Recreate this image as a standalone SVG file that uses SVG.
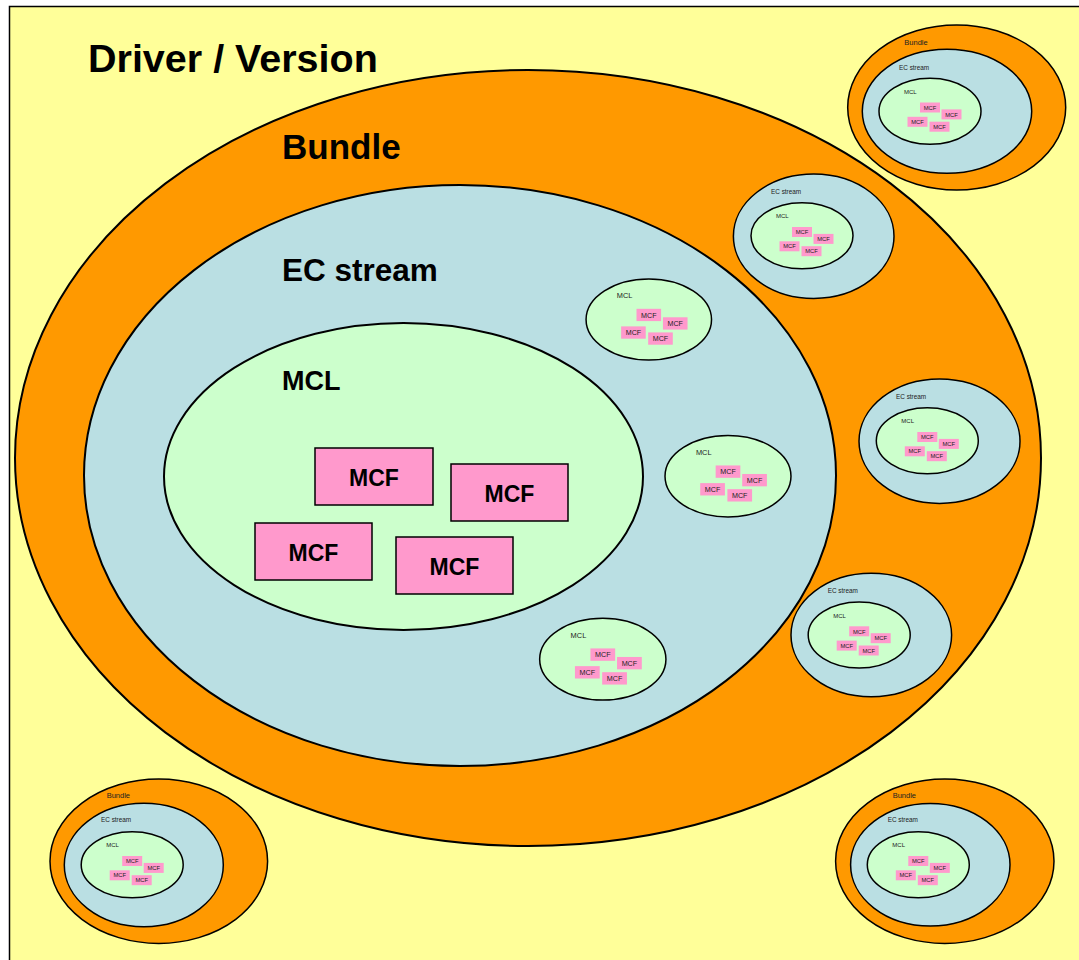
<svg xmlns="http://www.w3.org/2000/svg" width="1079" height="960" viewBox="0 0 1079 960">
<style>
.bundle{fill:#FF9900;stroke:#000;stroke-width:2}
.ec{fill:#BADFE3;stroke:#000;stroke-width:2}
.mcl{fill:#CCFFCC;stroke:#000;stroke-width:2}
.mcf{fill:#FF99CC;stroke:#000;stroke-width:1.5}
.sbundle{fill:#FF9900;stroke:#000;stroke-width:1.5}
.sec{fill:#BADFE3;stroke:#000;stroke-width:1.5}
.smcl{fill:#CCFFCC;stroke:#000;stroke-width:1.5;vector-effect:non-scaling-stroke}
.smcf{fill:#FF99CC;stroke:none}
.big{font-family:"Liberation Sans",Arial,sans-serif;font-weight:bold;fill:#000}
.sm{font-family:"Liberation Sans",Arial,sans-serif;fill:#222}
.smc{font-family:"Liberation Sans",Arial,sans-serif;fill:#222;font-size:5.8px;text-anchor:middle}
.bigmcf{font-family:"Liberation Sans",Arial,sans-serif;font-weight:bold;font-size:23px;text-anchor:middle;fill:#000}
</style>
<rect x="0" y="0" width="1079" height="960" fill="#FFFFFF"/>
<rect id="driver-frame" x="9.5" y="6.5" width="1080" height="960" fill="#FFFF99" stroke="#000" stroke-width="1.5"/>
<text class="big" x="88" y="72" font-size="39.5">Driver / Version</text>

<g id="bundle-main">
  <ellipse class="bundle" cx="528" cy="458" rx="513" ry="388"/>
  <text class="big" x="282" y="159" font-size="35">Bundle</text>
</g>
<g id="ec-main">
  <ellipse class="ec" cx="460" cy="475.5" rx="376" ry="290.5"/>
  <text class="big" x="282" y="281" font-size="31.5">EC stream</text>
</g>
<g id="mcl-main">
  <ellipse class="mcl" cx="403.5" cy="476.5" rx="239.5" ry="153.5"/>
  <text class="big" x="282" y="390" font-size="27">MCL</text>
</g>
<g id="mcf-1"><rect class="mcf" x="315" y="448" width="118" height="57"/><text class="bigmcf" x="374" y="486">MCF</text></g>
<g id="mcf-2"><rect class="mcf" x="451" y="464" width="117" height="57"/><text class="bigmcf" x="509.5" y="502">MCF</text></g>
<g id="mcf-3"><rect class="mcf" x="255" y="523" width="117" height="57"/><text class="bigmcf" x="313.5" y="561">MCF</text></g>
<g id="mcf-4"><rect class="mcf" x="396" y="537" width="117" height="57"/><text class="bigmcf" x="454.5" y="575">MCF</text></g>

<!-- small MCL inside main EC stream -->
<g id="mcl-s1" transform="translate(648.8,319.5) scale(1.23)">
  <ellipse class="smcl" rx="51" ry="33"/>
  <text class="sm" x="-26" y="-17.5" font-size="6px">MCL</text>
  <rect class="smcf" x="-10" y="-8.7" width="20" height="10"/><text class="smc" x="0" y="-1.5">MCF</text>
  <rect class="smcf" x="11.5" y="-1.8" width="20" height="10"/><text class="smc" x="21.5" y="5.4">MCF</text>
  <rect class="smcf" x="-22.5" y="5.6" width="20" height="10"/><text class="smc" x="-12.5" y="12.8">MCF</text>
  <rect class="smcf" x="-0.5" y="10.5" width="20" height="10"/><text class="smc" x="9.5" y="17.7">MCF</text>
</g>
<g id="mcl-s2" transform="translate(728,476.2) scale(1.235)">
  <ellipse class="smcl" rx="51" ry="33"/>
  <text class="sm" x="-26" y="-17.5" font-size="6px">MCL</text>
  <rect class="smcf" x="-10" y="-8.7" width="20" height="10"/><text class="smc" x="0" y="-1.5">MCF</text>
  <rect class="smcf" x="11.5" y="-1.8" width="20" height="10"/><text class="smc" x="21.5" y="5.4">MCF</text>
  <rect class="smcf" x="-22.5" y="5.6" width="20" height="10"/><text class="smc" x="-12.5" y="12.8">MCF</text>
  <rect class="smcf" x="-0.5" y="10.5" width="20" height="10"/><text class="smc" x="9.5" y="17.7">MCF</text>
</g>
<g id="mcl-s3" transform="translate(602.8,659.2) scale(1.238)">
  <ellipse class="smcl" rx="51" ry="33"/>
  <text class="sm" x="-26" y="-17.5" font-size="6px">MCL</text>
  <rect class="smcf" x="-10" y="-8.7" width="20" height="10"/><text class="smc" x="0" y="-1.5">MCF</text>
  <rect class="smcf" x="11.5" y="-1.8" width="20" height="10"/><text class="smc" x="21.5" y="5.4">MCF</text>
  <rect class="smcf" x="-22.5" y="5.6" width="20" height="10"/><text class="smc" x="-12.5" y="12.8">MCF</text>
  <rect class="smcf" x="-0.5" y="10.5" width="20" height="10"/><text class="smc" x="9.5" y="17.7">MCF</text>
</g>

<!-- small EC streams inside main bundle -->
<g id="ec-s1">
  <ellipse class="sec" cx="813.7" cy="236.2" rx="80.3" ry="62.2"/>
  <text class="sm" x="771" y="194" font-size="6.4px">EC stream</text>
  <g transform="translate(802,235.7)">
    <ellipse class="smcl" rx="51" ry="33"/>
    <text class="sm" x="-26" y="-17.5" font-size="6px">MCL</text>
    <rect class="smcf" x="-10" y="-8.7" width="20" height="10"/><text class="smc" x="0" y="-1.5">MCF</text>
    <rect class="smcf" x="11.5" y="-1.8" width="20" height="10"/><text class="smc" x="21.5" y="5.4">MCF</text>
    <rect class="smcf" x="-22.5" y="5.6" width="20" height="10"/><text class="smc" x="-12.5" y="12.8">MCF</text>
    <rect class="smcf" x="-0.5" y="10.5" width="20" height="10"/><text class="smc" x="9.5" y="17.7">MCF</text>
  </g>
</g>
<g id="ec-s2">
  <ellipse class="sec" cx="939.5" cy="441.2" rx="80.5" ry="62.2"/>
  <text class="sm" x="896" y="399" font-size="6.4px">EC stream</text>
  <g transform="translate(927.3,440.7)">
    <ellipse class="smcl" rx="51" ry="33"/>
    <text class="sm" x="-26" y="-17.5" font-size="6px">MCL</text>
    <rect class="smcf" x="-10" y="-8.7" width="20" height="10"/><text class="smc" x="0" y="-1.5">MCF</text>
    <rect class="smcf" x="11.5" y="-1.8" width="20" height="10"/><text class="smc" x="21.5" y="5.4">MCF</text>
    <rect class="smcf" x="-22.5" y="5.6" width="20" height="10"/><text class="smc" x="-12.5" y="12.8">MCF</text>
    <rect class="smcf" x="-0.5" y="10.5" width="20" height="10"/><text class="smc" x="9.5" y="17.7">MCF</text>
  </g>
</g>
<g id="ec-s3">
  <ellipse class="sec" cx="871.3" cy="635" rx="80.3" ry="61.7"/>
  <text class="sm" x="827.7" y="592.7" font-size="6.4px">EC stream</text>
  <g transform="translate(859.2,635)">
    <ellipse class="smcl" rx="51" ry="33"/>
    <text class="sm" x="-26" y="-17.5" font-size="6px">MCL</text>
    <rect class="smcf" x="-10" y="-8.7" width="20" height="10"/><text class="smc" x="0" y="-1.5">MCF</text>
    <rect class="smcf" x="11.5" y="-1.8" width="20" height="10"/><text class="smc" x="21.5" y="5.4">MCF</text>
    <rect class="smcf" x="-22.5" y="5.6" width="20" height="10"/><text class="smc" x="-12.5" y="12.8">MCF</text>
    <rect class="smcf" x="-0.5" y="10.5" width="20" height="10"/><text class="smc" x="9.5" y="17.7">MCF</text>
  </g>
</g>

<!-- small bundles -->
<g id="bundle-s1">
  <ellipse class="sbundle" cx="956.7" cy="107.5" rx="109" ry="82.5"/>
  <text class="sm" x="904.3" y="45" font-size="7.5px">Bundle</text>
  <ellipse class="sec" cx="947" cy="111.3" rx="84.7" ry="62"/>
  <text class="sm" x="899" y="70" font-size="6.4px">EC stream</text>
  <g transform="translate(930,111.2)">
    <ellipse class="smcl" rx="51" ry="33"/>
    <text class="sm" x="-26" y="-17.5" font-size="6px">MCL</text>
    <rect class="smcf" x="-10" y="-8.7" width="20" height="10"/><text class="smc" x="0" y="-1.5">MCF</text>
    <rect class="smcf" x="11.5" y="-1.8" width="20" height="10"/><text class="smc" x="21.5" y="5.4">MCF</text>
    <rect class="smcf" x="-22.5" y="5.6" width="20" height="10"/><text class="smc" x="-12.5" y="12.8">MCF</text>
    <rect class="smcf" x="-0.5" y="10.5" width="20" height="10"/><text class="smc" x="9.5" y="17.7">MCF</text>
  </g>
</g>
<g id="bundle-s2">
  <ellipse class="sbundle" cx="158.8" cy="861.2" rx="108.8" ry="82.2"/>
  <text class="sm" x="106.7" y="797.7" font-size="7.5px">Bundle</text>
  <ellipse class="sec" cx="143.8" cy="865" rx="79.5" ry="61.7"/>
  <text class="sm" x="101" y="822.3" font-size="6.4px">EC stream</text>
  <g transform="translate(132.2,864.7)">
    <ellipse class="smcl" rx="51" ry="33"/>
    <text class="sm" x="-26" y="-17.5" font-size="6px">MCL</text>
    <rect class="smcf" x="-10" y="-8.7" width="20" height="10"/><text class="smc" x="0" y="-1.5">MCF</text>
    <rect class="smcf" x="11.5" y="-1.8" width="20" height="10"/><text class="smc" x="21.5" y="5.4">MCF</text>
    <rect class="smcf" x="-22.5" y="5.6" width="20" height="10"/><text class="smc" x="-12.5" y="12.8">MCF</text>
    <rect class="smcf" x="-0.5" y="10.5" width="20" height="10"/><text class="smc" x="9.5" y="17.7">MCF</text>
  </g>
</g>
<g id="bundle-s3">
  <ellipse class="sbundle" cx="944.8" cy="861.2" rx="109.2" ry="82.2"/>
  <text class="sm" x="892.7" y="797.7" font-size="7.5px">Bundle</text>
  <ellipse class="sec" cx="930.3" cy="864.7" rx="79.7" ry="61.3"/>
  <text class="sm" x="887.7" y="822.3" font-size="6.4px">EC stream</text>
  <g transform="translate(918.3,864.7)">
    <ellipse class="smcl" rx="51" ry="33"/>
    <text class="sm" x="-26" y="-17.5" font-size="6px">MCL</text>
    <rect class="smcf" x="-10" y="-8.7" width="20" height="10"/><text class="smc" x="0" y="-1.5">MCF</text>
    <rect class="smcf" x="11.5" y="-1.8" width="20" height="10"/><text class="smc" x="21.5" y="5.4">MCF</text>
    <rect class="smcf" x="-22.5" y="5.6" width="20" height="10"/><text class="smc" x="-12.5" y="12.8">MCF</text>
    <rect class="smcf" x="-0.5" y="10.5" width="20" height="10"/><text class="smc" x="9.5" y="17.7">MCF</text>
  </g>
</g>
</svg>
